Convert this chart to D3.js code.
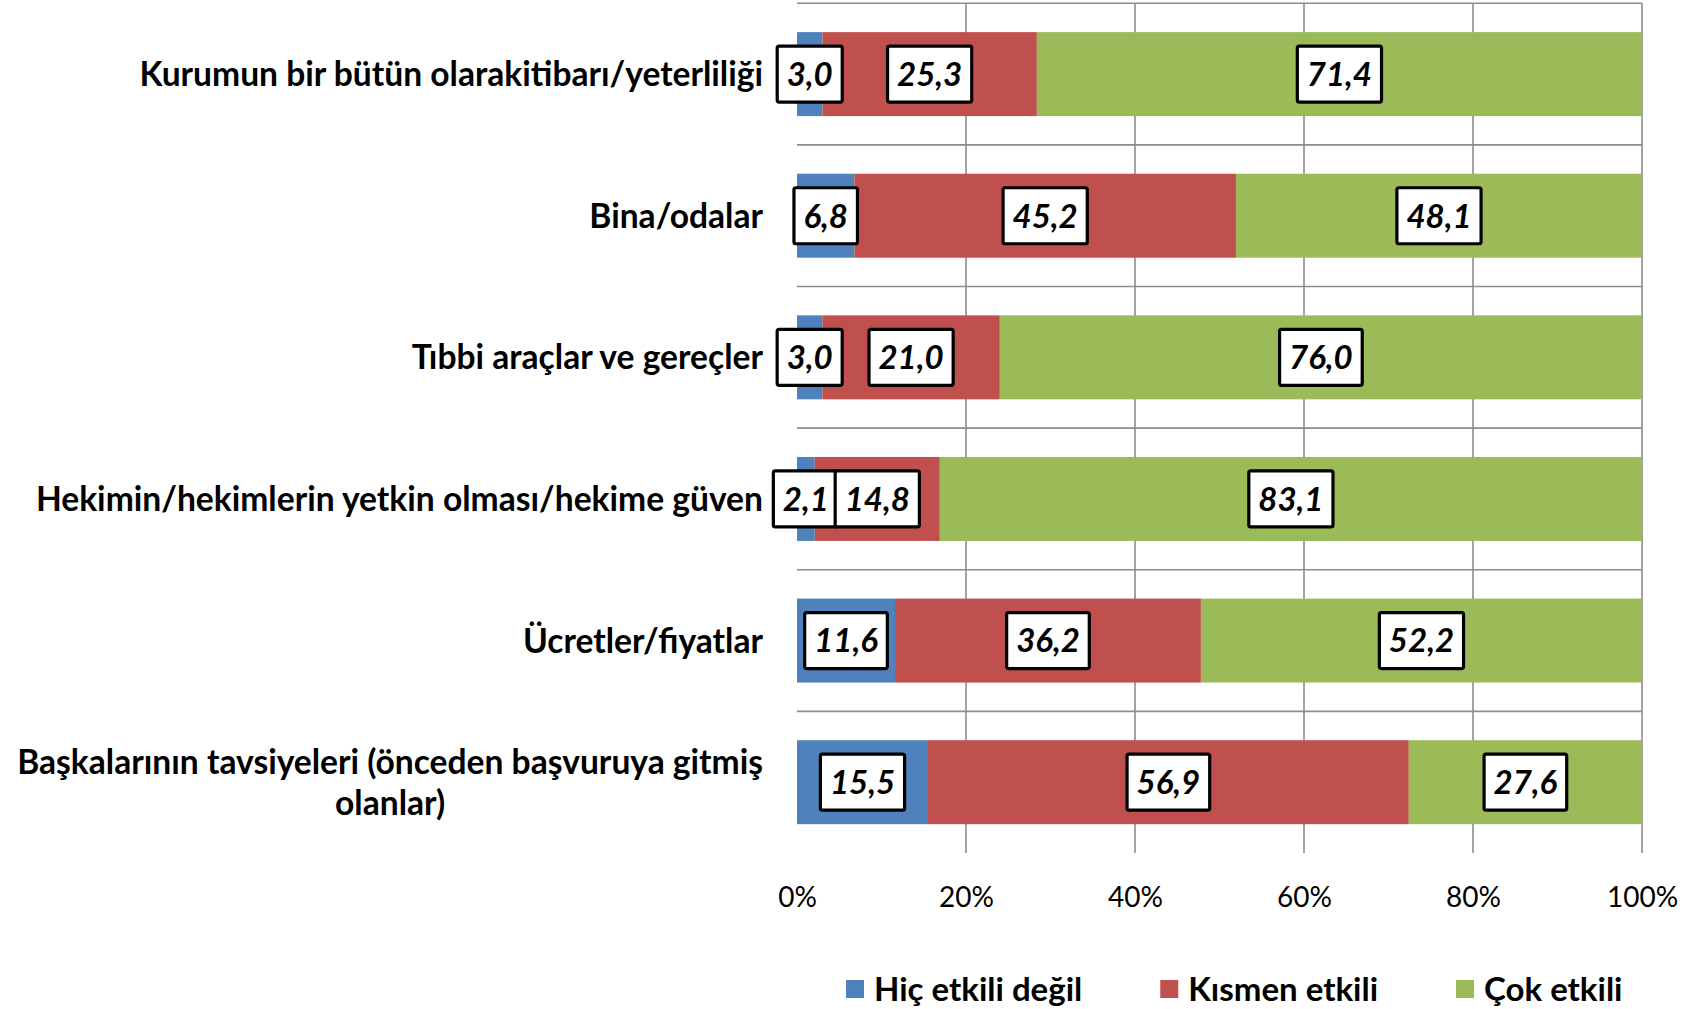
<!DOCTYPE html>
<html>
<head>
<meta charset="utf-8">
<script src="https://cdn.jsdelivr.net/npm/d3@7"></script>
<style>
  body { margin: 0; background: #fff; }
  text { font-family: Lato, "Open Sans", sans-serif; fill: #000; }
</style>
</head>
<body>
<div id="chart"></div>
<script>
// data
const categories = [
  "Kurumun bir bütün olarakitibarı/yeterliliği",
  "Bina/odalar",
  "Tıbbi araçlar ve gereçler",
  "Hekimin/hekimlerin yetkin olması/hekime güven",
  "Ücretler/fiyatlar",
  "Başkalarının tavsiyeleri (önceden başvuruya gitmiş olanlar)"
];
const seriesNames = ["Hiç etkili değil", "Kısmen etkili", "Çok etkili"];
const hicEtkili = [3.0, 6.8, 3.0, 2.1, 11.6, 15.5];
const kismenEtkili = [25.3, 45.2, 21.0, 14.8, 36.2, 56.9];
const cokEtkili = [71.4, 48.1, 76.0, 83.1, 52.2, 27.6];
const xTicks = [0, 0.2, 0.4, 0.6, 0.8, 1];

const colors = ["#4f81bd", "#c0504d", "#9bbb59"];

// setup
const width = 1702, height = 1009;
const plot = {left: 797, right: 1642, top: 3.3, bottom: 853};
const labelRight = 763;
const wrapWidth = 765;

const svg = d3.select("#chart").append("svg")
  .attr("width", width)
  .attr("height", height);

svg.append("rect").attr("width", width).attr("height", height).attr("fill", "#fff");

// scales
const x = d3.scaleLinear().domain([0, 1]).range([plot.left, plot.right]);
const y = d3.scaleBand()
  .domain(categories)
  .range([plot.top, plot.bottom])
  .paddingInner(0.407)
  .paddingOuter(0.2035);

const rows = categories.map((c, i) => ({cat: c, 0: hicEtkili[i], 1: kismenEtkili[i], 2: cokEtkili[i]}));
const stacked = d3.stack().keys([0, 1, 2]).offset(d3.stackOffsetExpand)(rows);

// gridlines
const gap = (y.step() - y.bandwidth()) / 2;
svg.append("g").selectAll("line")
  .data(categories)
  .join("line")
  .attr("x1", x(0)).attr("x2", x(1))
  .attr("y1", d => y(d) - gap).attr("y2", d => y(d) - gap)
  .attr("stroke", "#8c8c8c")
  .attr("stroke-width", 1.6);

svg.append("g").selectAll("line")
  .data(xTicks.filter(d => d > 0))
  .join("line")
  .attr("x1", d => x(d)).attr("x2", d => x(d))
  .attr("y1", plot.top).attr("y2", plot.bottom)
  .attr("stroke", "#8c8c8c")
  .attr("stroke-width", 1.6);

// bars
svg.append("g").selectAll("g")
  .data(stacked)
  .join("g")
  .attr("fill", d => colors[d.key])
  .selectAll("rect")
  .data(d => d)
  .join("rect")
  .attr("x", d => x(d[0]))
  .attr("width", d => x(d[1]) - x(d[0]))
  .attr("y", d => y(d.data.cat))
  .attr("height", y.bandwidth());

// data labels
const values = [hicEtkili, kismenEtkili, cokEtkili];
const labelG = svg.append("g");
stacked.forEach(s => {
  s.forEach((d, i) => {
    const g = labelG.append("g")
      .attr("transform", `translate(${x((d[0] + d[1]) / 2)},${y(d.data.cat) + y.bandwidth() / 2})`);
    const rect = g.append("rect");
    const t = g.append("text")
      .attr("text-anchor", "middle")
      .attr("dy", "0.36em")
      .style("font-size", "33px")
      .style("font-weight", "bold")
      .style("font-style", "italic")
      .text(d3.format(".1f")(values[s.key][i]).replace(".", ","));
    const w = t.node().getComputedTextLength() + 19;
    rect.attr("x", -w / 2).attr("y", -28).attr("width", w).attr("height", 56)
      .attr("rx", 2)
      .attr("fill", "#fff")
      .attr("stroke", "#000")
      .attr("stroke-width", 3.2);
  });
});

// category labels
const catG = svg.append("g");
categories.forEach(c => {
  const t = catG.append("text")
    .style("font-size", "33.6px")
    .style("font-weight", "bold")
    .attr("x", labelRight)
    .attr("y", y(c) + y.bandwidth() / 2)
    .attr("dy", "0.36em")
    .attr("text-anchor", "end")
    .text(c);
  if (t.node().getComputedTextLength() > wrapWidth) {
    // wrap in lines, center them
    const words = c.split(" ");
    const lines = [];
    let line = [];
    t.text(null);
    const probe = t.append("tspan");
    words.forEach(w => {
      line.push(w);
      probe.text(line.join(" "));
      if (probe.node().getComputedTextLength() > wrapWidth && line.length > 1) {
        line.pop();
        lines.push(line.join(" "));
        line = [w];
      }
    });
    lines.push(line.join(" "));
    let maxW = 0;
    lines.forEach(l => {
      probe.text(l);
      maxW = Math.max(maxW, probe.node().getComputedTextLength());
    });
    t.text(null);
    const cx = labelRight - maxW / 2;
    const lh = 41;
    t.attr("text-anchor", "middle");
    lines.forEach((l, k) => {
      t.append("tspan")
        .attr("x", cx)
        .attr("y", y(c) + y.bandwidth() / 2 + (k - (lines.length - 1) / 2) * lh)
        .attr("dy", "0.36em")
        .text(l);
    });
  }
});

// x axis
const xAxis = d3.axisBottom(x)
  .tickValues(xTicks)
  .tickFormat(d3.format(".0%"))
  .tickSize(0)
  .tickPadding(34);

svg.append("g")
  .attr("transform", `translate(0,${plot.bottom})`)
  .call(xAxis)
  .call(g => g.select(".domain").remove())
  .call(g => g.selectAll("text")
    .style("font-family", "Lato, sans-serif")
    .style("font-size", "28px")
    .attr("fill", "#000"));

// legend
const legend = svg.append("g").attr("transform", "translate(846,989)");
let lx = 0;
seriesNames.forEach((name, i) => {
  legend.append("rect")
    .attr("x", lx).attr("y", -9)
    .attr("width", 18).attr("height", 18)
    .attr("fill", colors[i]);
  const t = legend.append("text")
    .attr("x", lx + 28)
    .attr("dy", "0.36em")
    .style("font-size", "33px")
    .style("font-weight", "bold")
    .text(name);
  lx += 28 + t.node().getComputedTextLength() + 78;
});
</script>
</body>
</html>
